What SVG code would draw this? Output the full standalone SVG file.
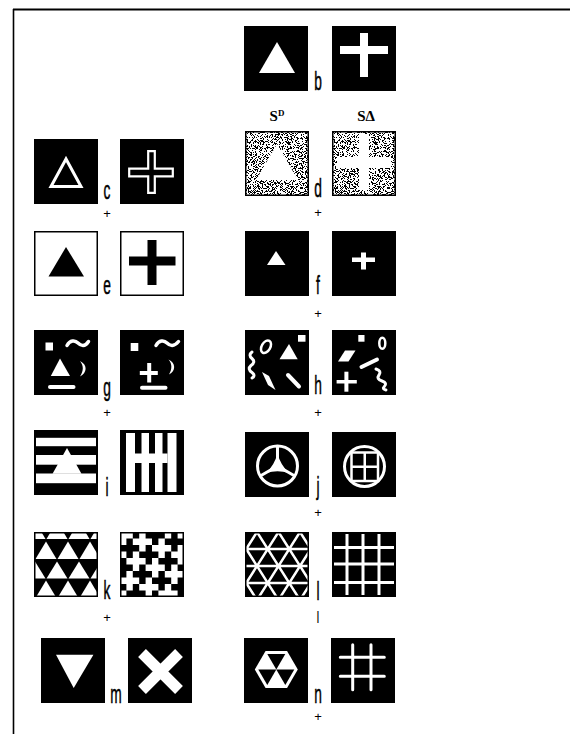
<svg xmlns="http://www.w3.org/2000/svg" width="570" height="734" viewBox="0 0 570 734">
<style>
.k{fill:#000}
.w{fill:#fff}
.ws{fill:none;stroke:#fff}
.ob{fill:#fff;stroke:#000;stroke-width:1.5}
.lbl{font-family:"Liberation Sans",Arial,sans-serif;font-size:25px;fill:#000;stroke:#000;stroke-width:0.5;text-anchor:middle}
.pl{font-family:"Liberation Sans",Arial,sans-serif;font-size:13px;fill:#000;text-anchor:middle}
.sd{font-family:"Liberation Serif","Times New Roman",serif;font-weight:bold;font-size:15px;fill:#000;text-anchor:middle}
</style>
<defs>
<rect id="sq" width="64" height="65"/>
<clipPath id="cl"><rect x="1.5" y="1.5" width="61" height="62"/></clipPath>
<filter id="stip" x="0" y="0" width="1" height="1" color-interpolation-filters="sRGB">
<feTurbulence type="fractalNoise" baseFrequency="1.2" numOctaves="2" seed="7"/>
<feColorMatrix type="matrix" values="0 0 0 0 0  0 0 0 0 0  0 0 0 0 0  1 0 0 0 -0.04"/>
<feComponentTransfer><feFuncA type="discrete" tableValues="0 1"/></feComponentTransfer>
</filter>
</defs>
<rect width="570" height="734" fill="#fff"/>
<g id="frame" stroke="#000">
<line x1="13" y1="9.5" x2="570" y2="9.5" stroke-width="2"/>
<line x1="13.5" y1="9" x2="13.5" y2="734" stroke-width="1.6"/>
</g>

<g id="b-left" transform="translate(244 26)"><use href="#sq" class="k"/><polygon class="w" points="33,16 15,47 51,47"/></g>
<g id="b-right" transform="translate(332 26)"><use href="#sq" class="k"/><rect class="w" x="28" y="7" width="8" height="44"/><rect class="w" x="8" y="20" width="48" height="8"/></g>
<text class="lbl" transform="translate(318 90) scale(0.55 1)">b</text>
<text class="sd" x="277" y="121">S<tspan font-size="9" dy="-5">D</tspan></text>
<text class="sd" x="366" y="121">SΔ</text>

<g id="c-left" transform="translate(34 139)"><use href="#sq" class="k"/><polygon class="ws" stroke-width="3" points="32,20 17,47.5 47,47.5"/></g>
<g id="c-right" transform="translate(120 139)"><use href="#sq" class="k"/><polygon class="ws" stroke-width="2.2" points="28.2,12.2 34.8,12.2 34.8,29.7 52.8,29.7 52.8,37.3 34.8,37.3 34.8,53.8 28.2,53.8 28.2,37.3 9.2,37.3 9.2,29.7 28.2,29.7"/></g>
<text class="lbl" transform="translate(107 199) scale(0.55 1)">c</text>
<text class="pl" x="107" y="218">+</text>

<g id="d-left" transform="translate(245 131)"><rect width="64" height="65" fill="#fff"/><rect width="64" height="65" filter="url(#stip)"/><rect x="0.75" y="0.75" width="62.5" height="63.5" fill="none" stroke="#000" stroke-width="1.5"/><polygon class="w" points="32,13 11,49 53,49"/></g>
<g id="d-right" transform="translate(332 131)"><rect width="64" height="65" fill="#fff"/><rect width="64" height="65" filter="url(#stip)"/><rect x="0.75" y="0.75" width="62.5" height="63.5" fill="none" stroke="#000" stroke-width="1.5"/><rect class="w" x="27" y="3" width="10" height="56"/><rect class="w" x="5" y="26" width="54" height="11"/></g>
<text class="lbl" transform="translate(318 197) scale(0.55 1)">d</text>
<text class="pl" x="318" y="216.5">+</text>

<g id="e-left" transform="translate(34 231)"><rect class="ob" x="0.75" y="0.75" width="62.5" height="63.5"/><polygon class="k" points="32,16 14.5,45.5 50,45.5"/></g>
<g id="e-right" transform="translate(120 231)"><rect class="ob" x="0.75" y="0.75" width="62.5" height="63.5"/><rect class="k" x="27.5" y="9" width="9" height="45"/><rect class="k" x="9" y="25.5" width="46.5" height="9"/></g>
<text class="lbl" transform="translate(107 294) scale(0.55 1)">e</text>

<g id="f-left" transform="translate(245 231)"><use href="#sq" class="k"/><polygon class="w" points="31,20 22,34 40.5,34"/></g>
<g id="f-right" transform="translate(332 231)"><use href="#sq" class="k"/><rect class="w" x="20" y="26.5" width="23" height="4.5"/><rect class="w" x="29" y="21.5" width="5" height="17"/></g>
<text class="lbl" transform="translate(318 294) scale(0.55 1)">f</text>
<text class="pl" x="318" y="317.5">+</text>

<g id="g-left" transform="translate(34 330)"><use href="#sq" class="k"/>
<rect class="w" x="11.5" y="12.5" width="7.5" height="8"/>
<path class="ws" stroke-width="3.5" stroke-linecap="round" d="M33,15.5 C36,10 41,10 44,13 S51,17 54.5,11.5"/>
<polygon class="w" points="26,28.5 16.8,46 36,46"/>
<path class="w" d="M46,31 C54,35 53,43 46,46.5 C49.5,41 50,36 46,31 Z"/>
<rect class="w" x="14" y="55" width="27.5" height="4" rx="2"/></g>
<g id="g-right" transform="translate(120 330)"><use href="#sq" class="k"/>
<rect class="w" x="10.7" y="13" width="7.6" height="8"/>
<path class="ws" stroke-width="3.5" stroke-linecap="round" d="M36,15.5 C39,10 44,10 47,13 S54,17 58.5,11.5"/>
<rect class="w" x="19.8" y="41" width="18" height="4"/><rect class="w" x="27.2" y="33" width="4" height="19.5"/>
<path class="w" d="M48.5,29.5 C56,33 56,41 49,44.5 C52,39.5 52.5,34 48.5,29.5 Z"/>
<rect class="w" x="20" y="55.7" width="27.5" height="4" rx="2"/></g>
<text class="lbl" transform="translate(107 396) scale(0.55 1)">g</text>
<text class="pl" x="107" y="416.5">+</text>

<g id="h-left" transform="translate(245 330)"><use href="#sq" class="k"/>
<rect class="w" x="53" y="5" width="7.5" height="6.7"/>
<ellipse class="ws" stroke-width="2.5" cx="21" cy="16.7" rx="4.3" ry="6.8" transform="rotate(30 21 16.7)"/>
<polygon class="w" points="44,14 34.5,29.3 52.7,29.3"/>
<path class="ws" stroke-width="3" stroke-linecap="round" d="M7,22 Q3,25 7,28.5 Q11,32 6,35.5 Q2,39 7,42.5 Q11,45.5 7,48"/>
<polygon class="w" points="17,42 24,46 30.5,60 23,55"/>
<line class="ws" stroke-width="4" stroke-linecap="round" x1="43" y1="45" x2="54" y2="56.5"/></g>
<g id="h-right" transform="translate(332 330)"><use href="#sq" class="k"/>
<rect class="w" x="26.3" y="5" width="6.2" height="6.7"/>
<ellipse class="ws" stroke-width="2.5" cx="50.3" cy="13.3" rx="3" ry="5.5"/>
<polygon class="w" points="13,20.5 23.5,20.5 16.5,31.5 6,31.5"/>
<line class="ws" stroke-width="4" stroke-linecap="round" x1="29.5" y1="37" x2="45" y2="29.5"/>
<rect class="w" x="4.6" y="50" width="20.2" height="3.5"/><rect class="w" x="12.4" y="41.7" width="4" height="20"/>
<path class="ws" stroke-width="3" stroke-linecap="round" d="M44,39 Q50,41 47,45 Q44,49 50,51 Q56,53 52,57 Q50,59 54,60"/></g>
<text class="lbl" transform="translate(318 394) scale(0.55 1)">h</text>
<text class="pl" x="318" y="416.5">+</text>

<g id="i-left" transform="translate(34 430)"><use href="#sq" class="k"/>
<rect class="w" x="2" y="7.8" width="60" height="8.4"/><rect class="w" x="2" y="25" width="60" height="9.7"/><rect class="w" x="2" y="43.5" width="60" height="9.7"/>
<polygon class="w" points="33,18 18.5,43.8 47.5,43.8"/></g>
<g id="i-right" transform="translate(120 430)"><use href="#sq" class="k"/>
<rect class="w" x="6" y="3" width="9" height="59"/><rect class="w" x="21.5" y="3" width="7.5" height="59"/><rect class="w" x="35" y="3" width="7.5" height="59"/><rect class="w" x="47.5" y="3" width="9" height="59"/>
<rect class="w" x="15" y="23.5" width="32.5" height="9.5"/></g>
<text class="lbl" transform="translate(107 496) scale(0.55 1)">i</text>

<g id="j-left" transform="translate(245 432)"><use href="#sq" class="k"/>
<circle class="ws" stroke-width="3" cx="32.5" cy="34" r="20"/>
<path class="ws" stroke-width="3" d="M32.5,34 V14 M32.5,34 L15.2,44 M32.5,34 L49.8,44"/>
<path class="w" d="M32.5,21 Q35.1,32.5 44,41 Q32.5,37.5 21,41 Q29.9,32.5 32.5,21 Z"/></g>
<g id="j-right" transform="translate(332 432)"><use href="#sq" class="k"/>
<circle class="ws" stroke-width="3" cx="32.5" cy="34.5" r="20"/>
<rect class="ws" stroke-width="2.5" x="19.5" y="20.5" width="26.5" height="28.5"/>
<path class="ws" stroke-width="2.5" d="M32.75,20.5 V49 M19.5,34.75 H46"/></g>
<text class="lbl" transform="translate(318 495) scale(0.55 1)">j</text>
<text class="pl" x="318" y="516.5">+</text>

<g id="k-left" transform="translate(34 532)"><use href="#sq" class="k"/>
<g clip-path="url(#cl)" class="w">
<polygon points="1,-11 -9.5,7 11.5,7"/><polygon points="23,-11 12.5,7 33.5,7"/><polygon points="45,-11 34.5,7 55.5,7"/><polygon points="67,-11 56.5,7 77.5,7"/>
<polygon points="12,9.5 1.5,27 22.5,27"/><polygon points="34,9.5 23.5,27 44.5,27"/><polygon points="56,9.5 45.5,27 66.5,27"/>
<polygon points="1,29.5 -9.5,46.5 11.5,46.5"/><polygon points="23,29.5 12.5,46.5 33.5,46.5"/><polygon points="45,29.5 34.5,46.5 55.5,46.5"/><polygon points="67,29.5 56.5,46.5 77.5,46.5"/>
<polygon points="12,48.5 1.5,66 22.5,66"/><polygon points="34,48.5 23.5,66 44.5,66"/><polygon points="56,48.5 45.5,66 66.5,66"/>
</g></g>
<g id="k-right" transform="translate(120 532)"><use href="#sq" class="k"/>
<g clip-path="url(#cl)"><path class="w" transform="scale(6.4 6.5)" d="M-1 0h3v1h-3z M0 -1h1v3h-1z M2 1h3v1h-3z M3 0h1v3h-1z M5 2h3v1h-3z M6 1h1v3h-1z M8 3h3v1h-3z M9 2h1v3h-1z M-2 3h3v1h-3z M-1 2h1v3h-1z M1 4h3v1h-3z M2 3h1v3h-1z M4 5h3v1h-3z M5 4h1v3h-1z M7 6h3v1h-3z M8 5h1v3h-1z M0 7h3v1h-3z M1 6h1v3h-1z M3 8h3v1h-3z M4 7h1v3h-1z M6 9h3v1h-3z M7 8h1v3h-1z M-1 10h3v1h-3z M0 9h1v3h-1z M6 -1h3v1h-3z M7 -2h1v3h-1z M9 0h3v1h-3z M10 -1h1v3h-1z"/></g></g>
<text class="lbl" transform="translate(107 599) scale(0.55 1)">k</text>
<text class="pl" x="107" y="621.5">+</text>

<g id="l-left" transform="translate(245 532)"><use href="#sq" class="k"/>
<g clip-path="url(#cl)"><path class="ws" stroke-width="2.5" d="M0,17 H64 M0,34 H64 M0,51 H64 M-52.5,0 l43,68 M-31,0 l43,68 M-9.5,0 l43,68 M12,0 l43,68 M33.5,0 l43,68 M55,0 l43,68 M12,0 l-43,68 M33.5,0 l-43,68 M55,0 l-43,68 M76.5,0 l-43,68 M98,0 l-43,68 M119.5,0 l-43,68"/></g></g>
<g id="l-right" transform="translate(332 532)"><use href="#sq" class="k"/>
<path class="ws" stroke-width="3" d="M15,2 V63 M31,2 V63 M47,2 V63 M2,15.5 H62 M2,32 H62 M2,50.5 H62"/></g>
<text class="lbl" transform="translate(318 600) scale(0.55 1)">l</text>
<text class="pl" x="318" y="620" font-size="9">|</text>

<g id="m-left" transform="translate(41 638)"><use href="#sq" class="k"/><polygon class="w" points="15,16.7 52.4,16.7 32.7,50"/></g>
<g id="m-right" transform="translate(128 638)"><use href="#sq" class="k"/><path class="ws" stroke-width="11" d="M14,15 L51,52 M51,15 L14,52"/></g>
<text class="lbl" transform="translate(116 703) scale(0.55 1)">m</text>

<g id="n-left" transform="translate(244 638)"><use href="#sq" class="k"/>
<polygon class="w" points="53.8,31.5 43.05,50.1 21.55,50.1 10.8,31.5 21.55,12.9 43.05,12.9"/>
<polygon class="k" points="23.3,15.9 41.3,15.9 32.3,31.5"/>
<polygon class="k" points="23.3,15.9 41.3,15.9 32.3,31.5" transform="rotate(120 32.3 31.5)"/>
<polygon class="k" points="23.3,15.9 41.3,15.9 32.3,31.5" transform="rotate(240 32.3 31.5)"/></g>
<g id="n-right" transform="translate(331 638)"><use href="#sq" class="k"/>
<path class="ws" stroke-width="3" stroke-linecap="round" d="M21.7,6.7 V51.7 M40,6.7 V51.7 M9.3,19.3 H53.3 M9.3,38.3 H53.3"/></g>
<text class="lbl" transform="translate(318 703) scale(0.55 1)">n</text>
<text class="pl" x="318" y="720.5">+</text>
</svg>
